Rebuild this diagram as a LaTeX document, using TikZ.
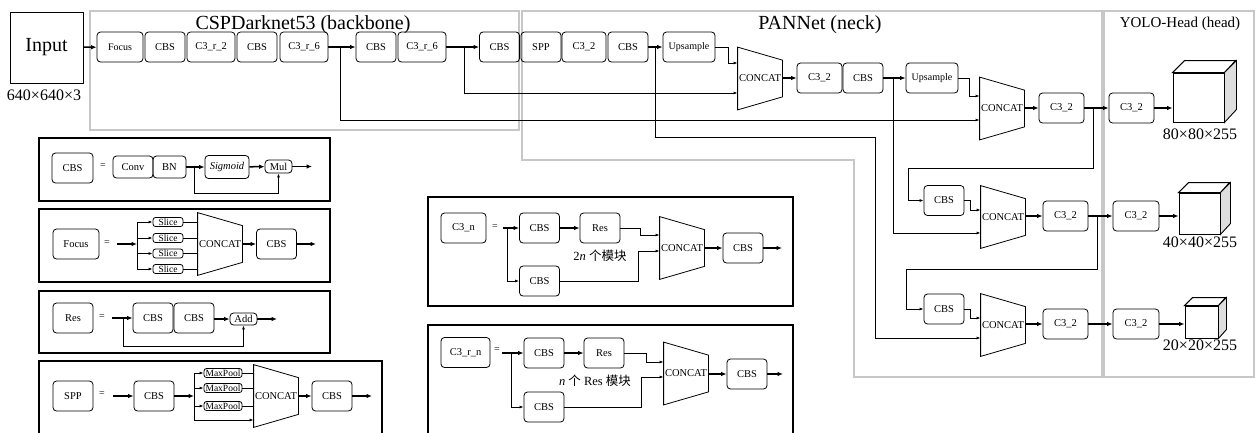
\documentclass[tikz,border=0pt]{standalone}
\usepackage{fontspec}
\setmainfont{Liberation Serif}
\newfontfamily\cjk{Noto Sans CJK SC}
\usetikzlibrary{arrows.meta,calc}
\newcommand\fs[1]{\fontsize{#1}{#1}\selectfont}
\newcommand\mkconcat[3]{%
  \node[inner sep=0pt, minimum width=44pt, minimum height=62pt, font=\fs{10.5}] (#1) at (#2+22,#3) {CONCAT};
  \draw[line width=0.8pt] (#1.north west) -- ($(#1.north east)+(0,13)$) -- ($(#1.south east)+(0,-13)$) -- (#1.south west) -- cycle;}
\newcommand\mkcube[6]{%
  \node[draw, line width=0.9pt, minimum width=#4pt, minimum height=#5pt, inner sep=0pt, fill=white] (#1) at (#2,#3) {};
  \draw[line width=0.9pt, fill=white] (#1.north west) -- ++(#6,-#6) -- ++(#4,0) -- (#1.north east) -- cycle;
  \draw[line width=0.9pt, fill=black!13] (#1.north east) -- ++(#6,-#6) -- ++(0,#5) -- (#1.south east) -- cycle;}
\begin{document}
\begin{tikzpicture}[x=1pt,y=-1pt,line width=0.8pt,
  bx/.style={draw, line width=0.8pt, rounded corners=3.5pt, minimum width=#1, minimum height=30pt, inner sep=0pt, font=\fs{10.5}},
  bx/.default=40pt,
  sb/.style={draw, line width=0.8pt, rounded corners=2.5pt, minimum width=#1, minimum height=9pt, inner sep=0pt, font=\fs{9.5}},
  arr/.style={-{Latex[length=4pt,width=3pt]}, line width=0.8pt},
  tarr/.style={-{Latex[length=5.5pt,width=4.5pt]}, line width=1.5pt},
  frame/.style={draw=black!22, line width=1.3pt},
  lframe/.style={draw, line width=1.1pt},
  eq/.style={font=\fs{10}}]
\fill[white] (0,0) rectangle (1255,432);
\useasboundingbox (0,0) rectangle (1255,432);

% ---------- frames ----------
\draw[frame] (90,11) rectangle (519,130);
\draw[frame] (522,11) -- (1102,11) -- (1102,377) -- (854,377) -- (854,160) -- (522,160) -- cycle;
\draw[frame] (1104,11) rectangle (1254,377);
\node[font=\fs{20}, anchor=base, inner sep=0pt] (tbb) at (303,29) {CSPDarknet53 (backbone)};
\node[font=\fs{20}, anchor=base, inner sep=0pt] (tneck) at (820,29) {PANNet (neck)};
\node[font=\fs{15}, anchor=base, inner sep=0pt] (thead) at (1180,27) {YOLO-Head (head)};

% ---------- input ----------
\node[draw, line width=0.9pt, minimum width=73pt, minimum height=71pt, inner sep=0pt, font=\fs{20}] (input) at (46.5,47.5) {Input};
\node[font=\fs{16}, anchor=base, inner sep=0pt] (insize) at (44,100) {640×640×3};

% ---------- backbone row ----------
\node[bx=46pt, font=\fs{10}] (focus) at (120,47) {Focus};
\node[bx] (cbs1) at (165,47) {CBS};
\node[bx=48pt] (c3r2) at (211,47) {C3\_r\_2};
\node[bx] (cbs2) at (257,47) {CBS};
\node[bx=48pt] (c3r6a) at (304,47) {C3\_r\_6};
\node[bx] (cbs3) at (376,47) {CBS};
\node[bx=48pt] (c3r6b) at (422,47) {C3\_r\_6};
\node[bx] (cbs4) at (499.5,47) {CBS};
\node[bx] (spp) at (541,47) {SPP};
\node[bx=44pt] (c32a) at (584,47) {C3\_2};
\node[bx] (cbs5) at (628,47) {CBS};
\node[bx=52pt, font=\fs{10}] (up1) at (689,47) {Upsample};

% ---------- neck ----------
\mkconcat{c1}{738}{78.5}
\node[bx=45pt] (c32b) at (819.5,78) {C3\_2};
\node[bx] (cbs6) at (863,78) {CBS};
\node[bx=52pt, font=\fs{10}] (up2) at (932,78) {Upsample};
\mkconcat{c2}{980}{108.5}
\node[bx=45pt] (c32c) at (1061.5,108) {C3\_2};
\node[bx] (cbs7) at (944,200.5) {CBS};
\mkconcat{c3}{981}{217}
\node[bx=45pt] (c32d) at (1065.5,216) {C3\_2};
\node[bx] (cbs8) at (944,309) {CBS};
\mkconcat{c4}{981}{325}
\node[bx=45pt] (c32e) at (1065.5,324) {C3\_2};

% ---------- head ----------
\node[bx=45pt] (h1) at (1131.5,108) {C3\_2};
\node[bx=46pt] (h2) at (1136,216) {C3\_2};
\node[bx=46pt] (h3) at (1136,324) {C3\_2};
\mkcube{cube1}{1198.5}{97.5}{51}{49}{12}
\mkcube{cube2}{1199.5}{213.5}{41}{41}{10}
\mkcube{cube3}{1201.5}{322}{33}{32}{8}
\node[font=\fs{16}, anchor=base, inner sep=0pt] (s1) at (1200,139) {80×80×255};
\node[font=\fs{16}, anchor=base, inner sep=0pt] (s2) at (1200,247) {40×40×255};
\node[font=\fs{16}, anchor=base, inner sep=0pt] (s3) at (1200,350) {20×20×255};

% ---------- main connectors ----------
\coordinate (k1) at (875,137);
\coordinate (k2) at (908,168);
\coordinate (k3) at (906,269);
\draw[tarr] (input) -- (focus);
\draw[tarr] (c3r6a) -- (cbs3);
\draw[arr] ($(c3r6a.east)+(12,0)$) |- ($(c2.west)+(0,11.5)$);
\draw[tarr] (c3r6b) -- (cbs4);
\draw[arr] ($(c3r6b.east)+(18,0)$) |- ($(c1.west)+(0,14.5)$);
\draw[tarr] (cbs5) -- (up1);
\draw[arr] ($(cbs5.east)+(7,0)$) |- (k1) |- ($(c4.west)+(0,13)$);
\draw[arr] (up1.east) -- ++(13,0) |- ($(c1.west)+(0,-15.5)$);
\draw[tarr] (c1.east |- c32b) -- (c32b);
\draw[tarr] (cbs6) -- (up2);
\draw[arr] ($(cbs6.east)+(10,0)$) |- ($(c3.west)+(0,16)$);
\draw[arr] (up2.east) -- ++(11,0) |- ($(c2.west)+(0,-12.5)$);
\draw[tarr] (c2.east |- c32c) -- (c32c);
\draw[tarr] (c32c) -- (h1);
\draw[arr] ($(c32c.east)+(9,0)$) |- (k2) |- (cbs7);
\draw[arr] (cbs7.east) -- ++(6,0) |- ($(c3.west)+(0,-7)$);
\draw[tarr] (c3.east |- c32d) -- (c32d);
\draw[tarr] (c32d) -- (h2);
\draw[arr] ($(c32d.east)+(9,0)$) |- (k3) |- (cbs8);
\draw[arr] (cbs8.east) -- ++(6,0) |- ($(c4.west)+(0,-7)$);
\draw[tarr] (c4.east |- c32e) -- (c32e);
\draw[tarr] (c32e) -- (h3);
\draw[tarr] (h1) -- (cube1.west |- h1);
\draw[tarr] (h2) -- (cube2.west |- h2);
\draw[tarr] (h3) -- (cube3.west |- h3);

% ---------- legend: CBS ----------
\draw[lframe] (39,138) rectangle (330,201);
\node[bx=41pt] (lcbs) at (72.5,168) {CBS};
\node[eq] (e1) at (103,166) {=};
\node[bx=40pt, minimum height=22pt] (conv) at (133,167) {Conv};
\node[bx=33pt, minimum height=22pt] (bn) at (169.5,167) {BN};
\node[bx=44pt, minimum height=23pt, font=\fs{10.5}\itshape] (sig) at (227,167) {Sigmoid};
\node[bx=27pt, minimum height=13pt] (mul) at (278.5,166.5) {Mul};
\coordinate (mout) at (312,166.5);
\draw[tarr] (bn.east |- sig) -- (sig);
\draw[arr] ($(bn.east)+(8,0)$) -- ++(0,26) -| (mul.south);
\draw[tarr] (sig) -- (mul);
\draw[tarr] (mul) -- (mout);

% ---------- legend: Focus ----------
\draw[lframe] (39,209) rectangle (330,282);
\node[bx=46pt] (lfocus) at (76,244) {Focus};
\node[eq] (e2) at (107,243) {=};
\coordinate (fin) at (117,244);
\coordinate (fsp) at (137,244);
\node[sb=30pt] (sl1) at (168,222) {Slice};
\node[sb=30pt] (sl2) at (168,238) {Slice};
\node[sb=30pt] (sl3) at (168,253.5) {Slice};
\node[sb=30pt] (sl4) at (168,269) {Slice};
\mkconcat{fc}{198}{244}
\node[bx] (fcbs) at (276.5,244) {CBS};
\coordinate (fout) at (316,244);
\draw[tarr] (fin) -- (fsp);
\draw (fsp |- sl1) -- (fsp |- sl4);
\foreach \s in {sl1,sl2,sl3,sl4} {
  \draw[arr] (fsp |- \s) -- (\s.west);
  \draw (\s.east) -- (fc.west |- \s);
}
\draw[tarr] (fc) -- (fcbs);
\draw[tarr] (fcbs) -- (fout);

% ---------- legend: Res ----------
\draw[lframe] (39,291) rectangle (330,353);
\node[bx] (lres) at (73,318) {Res};
\node[eq] (e3) at (102,317) {=};
\coordinate (rin) at (112,318);
\node[bx] (rc1) at (153,318) {CBS};
\node[bx] (rc2) at (194,318) {CBS};
\node[bx=27pt, minimum height=12pt] (add) at (243.5,319) {Add};
\coordinate (rout) at (277,319);
\draw[tarr] (rin) -- (rc1);
\draw[arr] ($(rin)+(11,0)$) -- ++(0,28) -| (add.south);
\draw[tarr] (rc2.east |- add) -- (add);
\draw[tarr] (add) -- (rout);

% ---------- legend: SPP ----------
\draw[lframe] (39,440) -- (39,361) -- (382,361) -- (382,440);
\node[bx] (lspp) at (73,396) {SPP};
\node[eq] (e4) at (102,394) {=};
\coordinate (pin) at (113,396);
\node[bx] (pc1) at (154,396) {CBS};
\coordinate (psp) at (194,396);
\node[sb=38pt] (mp1) at (223,373) {MaxPool};
\node[sb=38pt] (mp2) at (223,388) {MaxPool};
\node[sb=38pt] (mp3) at (223,406) {MaxPool};
\coordinate (p4) at (194,420);
\mkconcat{pc}{254}{396}
\node[bx] (pc2) at (332,396) {CBS};
\coordinate (pout) at (372,396);
\draw[tarr] (pin) -- (pc1);
\draw[tarr] (pc1) -- (psp);
\draw (psp |- mp1) -- (p4);
\foreach \s in {mp1,mp2,mp3} {
  \draw[arr] (psp |- \s) -- (\s.west);
  \draw (\s.east) -- (pc.west |- \s);
}
\draw[arr] (p4) -- (pc.west |- p4);
\draw[tarr] (pc) -- (pc2);
\draw[tarr] (pc2) -- (pout);

% ---------- legend: C3_n ----------
\draw[lframe] (428,197) rectangle (793,306);
\node[bx=45pt] (lc3n) at (463.5,228) {C3\_n};
\node[eq] (e5) at (495,227) {=};
\coordinate (nin) at (503,228);
\node[bx] (cn1) at (539.5,228) {CBS};
\node[bx] (cn2) at (539.5,281) {CBS};
\node[bx] (nres) at (600,228) {Res};
\mkconcat{nc}{660}{248}
\node[bx] (cn3) at (743,248) {CBS};
\coordinate (nout) at (782,248);
\node[font=\fs{12.5}, inner sep=0pt] (ntxt) at (600,256) {2\textit{n} {\cjk 个模块}};
\draw[tarr] (nin) -- (cn1);
\draw[arr] ($(nin)+(4,0)$) |- (cn2);
\draw[tarr] (cn1) -- (nres);
\draw[arr] (nres.east) -- ++(20,0) |- ($(nc.west)+(0,-13)$);
\draw[arr] (cn2.east) -- ++(78.5,0) |- ($(nc.west)+(0,3)$);
\draw[tarr] (nc) -- (cn3);
\draw[tarr] (cn3) -- (nout);

% ---------- legend: C3_r_n ----------
\draw[lframe] (428,440) -- (428,325) -- (793,325) -- (793,440);
\node[bx=49pt] (lc3rn) at (465.5,352.5) {C3\_r\_n};
\node[eq] (e6) at (497,350) {=};
\coordinate (rnin) at (502,353);
\node[bx] (crn1) at (544,353) {CBS};
\node[bx] (crn2) at (544,407) {CBS};
\node[bx] (rres) at (604,353) {Res};
\mkconcat{rc}{664}{373.5}
\node[bx] (crn3) at (747,374) {CBS};
\coordinate (rnout) at (783,374);
\node[font=\fs{12.5}, inner sep=0pt] (rtxt) at (595,381) {\textit{n} {\cjk 个} Res {\cjk 模块}};
\draw[tarr] (rnin) -- (crn1);
\draw[arr] ($(rnin)+(9,0)$) |- (crn2);
\draw[tarr] (crn1) -- (rres);
\draw[arr] (rres.east) -- ++(22,0) |- ($(rc.west)+(0,-11.5)$);
\draw[arr] (crn2.east) -- ++(77,0) |- ($(rc.west)+(0,3.5)$);
\draw[tarr] (rc.east |- crn3) -- (crn3);
\draw[tarr] (crn3) -- (rnout);
\end{tikzpicture}
\end{document}
